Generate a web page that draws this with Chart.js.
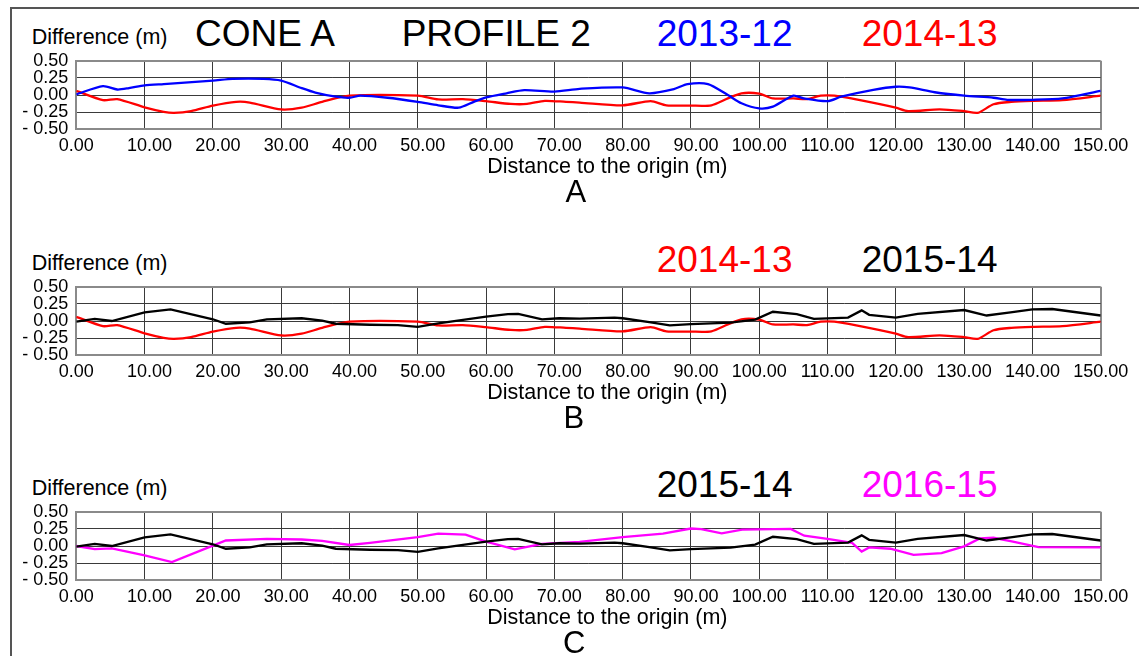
<!DOCTYPE html>
<html>
<head>
<meta charset="utf-8">
<script src="https://cdn.jsdelivr.net/npm/chart.js@4/dist/chart.umd.min.js"></script>
<style>
  html, body { margin:0; padding:0; background:#fff; }
  body { width:1139px; height:656px; position:relative; overflow:hidden; font-family:"Liberation Sans", Arial, sans-serif; }
  .t { position:absolute; line-height:1; white-space:nowrap; color:#000; }
  canvas { position:absolute; left:0; }
  #frameTop { position:absolute; left:10px; top:7px; width:1129px; height:0; border-top:2px solid #555; }
  #frameLeft { position:absolute; left:10px; top:7px; width:0; height:649px; border-left:2px solid #555; }
</style>
</head>
<body>
<div id="frameTop"></div>
<div id="frameLeft"></div>

<!-- Panel A -->
<div class="t" style="left:31.7px; top:27px; font-size:21.5px;">Difference (m)</div>
<div class="t" style="left:195px; top:15.2px; font-size:37px;">CONE A</div>
<div class="t" style="left:401.7px; top:15.2px; font-size:37px;">PROFILE 2</div>
<div class="t" style="left:656.7px; top:15.2px; font-size:37px; color:#0000ff;">2013-12</div>
<div class="t" style="left:861.7px; top:15.2px; font-size:37px; color:#ff0000;">2014-13</div>
<canvas id="cA" width="1139" height="110" style="top:50px;"></canvas>
<div class="t" style="left:487.3px; top:156px; font-size:21.5px;">Distance to the origin (m)</div>
<div class="t" style="left:565.5px; top:175.8px; font-size:31px;">A</div>

<!-- Panel B -->
<div class="t" style="left:31.7px; top:253px; font-size:21.5px;">Difference (m)</div>
<div class="t" style="left:656.7px; top:241.2px; font-size:37px; color:#ff0000;">2014-13</div>
<div class="t" style="left:861.7px; top:241.2px; font-size:37px;">2015-14</div>
<canvas id="cB" width="1139" height="110" style="top:276px;"></canvas>
<div class="t" style="left:487.3px; top:382px; font-size:21.5px;">Distance to the origin (m)</div>
<div class="t" style="left:563.5px; top:401.8px; font-size:31px;">B</div>

<!-- Panel C -->
<div class="t" style="left:31.7px; top:478px; font-size:21.5px;">Difference (m)</div>
<div class="t" style="left:656.7px; top:466.2px; font-size:37px;">2015-14</div>
<div class="t" style="left:861.7px; top:466.2px; font-size:37px; color:#ff00ff;">2016-15</div>
<canvas id="cC" width="1139" height="110" style="top:501px;"></canvas>
<div class="t" style="left:487.3px; top:607px; font-size:21.5px;">Distance to the origin (m)</div>
<div class="t" style="left:563px; top:626.8px; font-size:31px;">C</div>

<script>
// ---- Data (distance in m, difference in m) ----
const dist1213 = [0,3.9,6,7.7,10,12.8,20,22.9,27.4,30,33,35,38,40,41.6,45.6,50,53,56,58.2,60,63,65.6,70,73.7,80,83.9,87.5,89.5,92.5,95.4,97.4,100,102,105,106.5,110,112,116.7,120,122,125.7,130,134.3,136.3,140,144.4,150];
const diff1213 = [0.01,0.13,0.08,0.10,0.14,0.16,0.21,0.235,0.235,0.21,0.10,0.035,-0.025,-0.04,-0.01,-0.04,-0.10,-0.15,-0.185,-0.10,-0.035,0.025,0.07,0.05,0.09,0.11,0.025,0.085,0.16,0.16,0,-0.12,-0.195,-0.17,-0.01,-0.05,-0.09,-0.025,0.075,0.12,0.11,0.04,-0.01,-0.04,-0.07,-0.07,-0.05,0.06];

const dist1314 = [0,3.9,6,10,12.8,14.3,16.8,20,23.4,25.4,30,33,36,40,50,53,56.6,60,63.6,66,68.6,71.7,73.7,80,84.1,86.4,90,93,95.4,97.4,100,102,105,107,109,111,114.2,120,121.8,126.4,130,132,134.3,136.9,140,144.4,150];
const diff1314 = [0.06,-0.075,-0.06,-0.18,-0.245,-0.26,-0.235,-0.155,-0.10,-0.11,-0.21,-0.185,-0.10,-0.01,-0.01,-0.065,-0.06,-0.09,-0.13,-0.13,-0.085,-0.10,-0.11,-0.15,-0.09,-0.15,-0.155,-0.15,-0.05,0.025,0.02,-0.05,-0.05,-0.06,-0.01,-0.01,-0.065,-0.185,-0.235,-0.21,-0.235,-0.26,-0.135,-0.10,-0.085,-0.075,-0.01];

const dist1415 = [0,2.7,5.2,10,13.8,20,21.9,25.4,27.9,33,36,38,43,47.1,50,53,60,63.2,64.7,68.2,70.7,73.7,78.8,80,83.9,86.9,90,95.8,99.4,102,105.5,108,113,115,116.1,120,123.2,130,133.3,136.8,140,142.9,150];
const diff1415 = [-0.01,0.03,0,0.125,0.17,0.025,-0.04,-0.02,0.025,0.04,0.005,-0.04,-0.055,-0.06,-0.085,-0.035,0.065,0.10,0.105,0.025,0.04,0.035,0.05,0.04,-0.015,-0.065,-0.045,-0.025,0.02,0.135,0.10,0.03,0.05,0.155,0.09,0.05,0.105,0.16,0.08,0.125,0.17,0.175,0.08];

const dist1516 = [0,2.7,5.2,10,14,20,21.9,27.9,33,36,40,43,50,53,57,60,64.2,68.2,73.7,80,85.9,90,91.5,94.5,97.5,104.6,106.6,110,113.6,115,116.1,119.2,122.6,126.7,130,132.3,134.3,136.8,140.9,150];
const diff1516 = [0,-0.045,-0.035,-0.135,-0.235,0.005,0.08,0.105,0.095,0.075,0.015,0.045,0.13,0.18,0.165,0.065,-0.05,0.03,0.06,0.13,0.18,0.255,0.245,0.185,0.24,0.25,0.15,0.105,0.045,-0.08,-0.02,-0.04,-0.13,-0.105,-0.005,0.11,0.12,0.07,-0.015,-0.02];

const xMin = 0, xMax = 150, xStep = 10;
const yMin = -0.5, yMax = 0.5, yStep = 0.25;

const BLUE = '#0000ff', RED = '#ff0000', BLACK = '#000000', MAGENTA = '#ff00ff';

Chart.defaults.font.family = '"Liberation Sans", Arial, sans-serif';

function series(d, v, color, tension) {
  return {
    data: d.map((x, i) => ({ x: x, y: v[i] })),
    borderColor: color,
    borderWidth: 2.3,
    pointRadius: 0,
    tension: tension,
    fill: false
  };
}

function makeChart(id, datasets) {
  const edge = (ctx, min, max) => (ctx.tick && (Math.abs(ctx.tick.value - min) < 1e-9 || Math.abs(ctx.tick.value - max) < 1e-9));
  new Chart(document.getElementById(id), {
    type: 'line',
    data: { datasets: datasets },
    options: {
      responsive: false,
      animation: false,
      devicePixelRatio: 1,
      events: [],
      layout: { padding: { top: 10.7, right: 38.3, bottom: 0, left: 0 } },
      plugins: { legend: { display: false }, tooltip: { enabled: false } },
      scales: {
        x: {
          type: 'linear', min: xMin, max: xMax,
          afterFit: s => { s.height = 30.7; },
          ticks: {
            stepSize: xStep, autoSkip: false, maxRotation: 0, padding: 6,
            color: '#000', font: { size: 18 },
            callback: v => ((v > 0 && v < 100) ? '  ' : '') + v.toFixed(2)
          },
          grid: {
            drawTicks: false,
            color: ctx => edge(ctx, xMin, xMax) ? '#8a8a8a' : '#3a3a3a',
            lineWidth: ctx => edge(ctx, xMin, xMax) ? 2 : 1
          },
          border: { color: '#8a8a8a', width: 2 }
        },
        y: {
          type: 'linear', min: yMin, max: yMax,
          afterFit: s => { s.width = 76.3; s.paddingTop = 0; s.paddingBottom = 0; },
          ticks: {
            stepSize: yStep, autoSkip: false, padding: 8, color: '#000', font: { size: 18, lineHeight: 1 },
            callback: v => (v < -1e-9 ? '- ' + Math.abs(v).toFixed(2) : Math.abs(v).toFixed(2))
          },
          grid: {
            drawTicks: false,
            color: ctx => edge(ctx, yMin, yMax) ? '#8a8a8a' : '#3a3a3a',
            lineWidth: ctx => edge(ctx, yMin, yMax) ? 2 : 1
          },
          border: { color: '#8a8a8a', width: 2 }
        }
      }
    }
  });
}

makeChart('cA', [series(dist1213, diff1213, BLUE, 0.25), series(dist1314, diff1314, RED, 0.25)]);
makeChart('cB', [series(dist1415, diff1415, BLACK, 0), series(dist1314, diff1314, RED, 0.25)]);
makeChart('cC', [series(dist1415, diff1415, BLACK, 0), series(dist1516, diff1516, MAGENTA, 0)]);
</script>
</body>
</html>
